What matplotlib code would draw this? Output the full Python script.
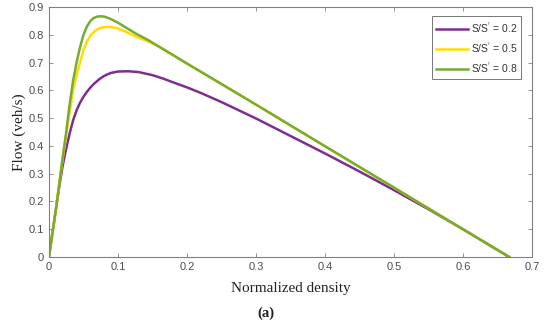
import matplotlib
matplotlib.use("Agg")
import matplotlib.pyplot as plt

# flow-density curves
x_02 = [0, 0.005, 0.01, 0.015, 0.02, 0.025, 0.03, 0.035, 0.04, 0.045, 0.05, 0.055, 0.06, 0.065,
        0.07, 0.075, 0.08, 0.085, 0.09, 0.1, 0.115, 0.13, 0.15, 0.165, 0.18, 0.2, 0.22, 0.25,
        0.3, 0.35, 0.4, 0.45, 0.5, 0.55, 0.6, 0.667]
y_02 = [0, 0.085, 0.17, 0.255, 0.33, 0.39, 0.445, 0.492, 0.528, 0.555, 0.577, 0.595, 0.61, 0.623,
        0.634, 0.644, 0.652, 0.658, 0.663, 0.668, 0.669, 0.666, 0.655, 0.643, 0.629, 0.611, 0.591, 0.558,
        0.499, 0.436, 0.373, 0.308, 0.241, 0.172, 0.1, 0]

x_05 = [0, 0.005, 0.01, 0.015, 0.02, 0.025, 0.03, 0.035, 0.04, 0.045, 0.05, 0.055, 0.06, 0.065,
        0.07, 0.076, 0.083, 0.091, 0.1, 0.11, 0.12, 0.13, 0.144, 0.16, 0.2, 0.3, 0.4, 0.5, 0.6, 0.667]
y_05 = [0, 0.085, 0.17, 0.265, 0.355, 0.44, 0.52, 0.60, 0.655, 0.70, 0.745, 0.775, 0.797, 0.81,
        0.82, 0.826, 0.829, 0.828, 0.823, 0.813, 0.801, 0.79, 0.776, 0.757, 0.697, 0.549, 0.399, 0.250, 0.100, 0]

x_08 = [0, 0.005, 0.01, 0.015, 0.02, 0.025, 0.03, 0.035, 0.04, 0.045, 0.05, 0.055, 0.06, 0.065,
        0.07, 0.075, 0.08, 0.088, 0.1, 0.11, 0.125, 0.144, 0.17, 0.2, 0.3, 0.4, 0.5, 0.6, 0.667]
y_08 = [0, 0.085, 0.17, 0.265, 0.36, 0.45, 0.55, 0.635, 0.70, 0.755, 0.80, 0.83, 0.85, 0.861,
        0.866, 0.867, 0.866, 0.859, 0.844, 0.829, 0.806, 0.781, 0.742, 0.697, 0.549, 0.399, 0.250, 0.100, 0]

labels = ["S/S$^{'}$ = 0.2", "S/S$^{'}$ = 0.5", "S/S$^{'}$ = 0.8"]
colors = ["#7E2F8E", "#FFDD00", "#77AC30"]

fig = plt.figure(figsize=(5.5, 3.24), dpi=100)
ax = fig.add_axes([0.089, 0.207, 0.878, 0.771])

for xs, ys, lab, c in zip([x_02, x_05, x_08], [y_02, y_05, y_08], labels, colors):
    ax.plot(xs, ys, color=c, lw=1.8, label=lab, solid_joinstyle="round")

ax.set_xlim(0, 0.7)
ax.set_ylim(0, 0.9)
ax.set_xticks([0, 0.1, 0.2, 0.3, 0.4, 0.5, 0.6, 0.7])
ax.set_xticklabels(["0", "0.1", "0.2", "0.3", "0.4", "0.5", "0.6", "0.7"])
ax.set_yticks([0, 0.1, 0.2, 0.3, 0.4, 0.5, 0.6, 0.7, 0.8, 0.9])
ax.set_yticklabels(["0", "0.1", "0.2", "0.3", "0.4", "0.5", "0.6", "0.7", "0.8", "0.9"])

gray = "#4d4d4d"
for s in ax.spines.values():
    s.set_color("#808080")
    s.set_linewidth(0.8)
ax.tick_params(direction="in", top=True, right=True, length=3, width=0.6,
               colors="#808080", labelcolor=gray, labelsize=8)
for t in ax.get_xticklabels() + ax.get_yticklabels():
    t.set_fontfamily("Liberation Sans")

ax.set_xlabel("Normalized density", family="Liberation Serif", fontsize=11, color="#222222", labelpad=7)
ax.set_ylabel("Flow (veh/s)", family="Liberation Serif", fontsize=11, color="#222222", labelpad=2)

leg = ax.legend(loc="upper right", bbox_to_anchor=(0.985, 0.975), prop={"family": "Liberation Sans", "size": 7.5},
                frameon=True, fancybox=False, edgecolor="#555555", handlelength=3.0,
                borderpad=0.4, labelspacing=0.55, handletextpad=0.3, borderaxespad=0.3)
leg.get_frame().set_linewidth(0.7)
for t in leg.get_texts():
    t.set_color("#333333")

fig.text(0.484, 0.022, "(a)", family="Liberation Serif", fontweight="bold", fontsize=10.5, ha="center", color="#222222")

fig.savefig("out.png", dpi=100)
